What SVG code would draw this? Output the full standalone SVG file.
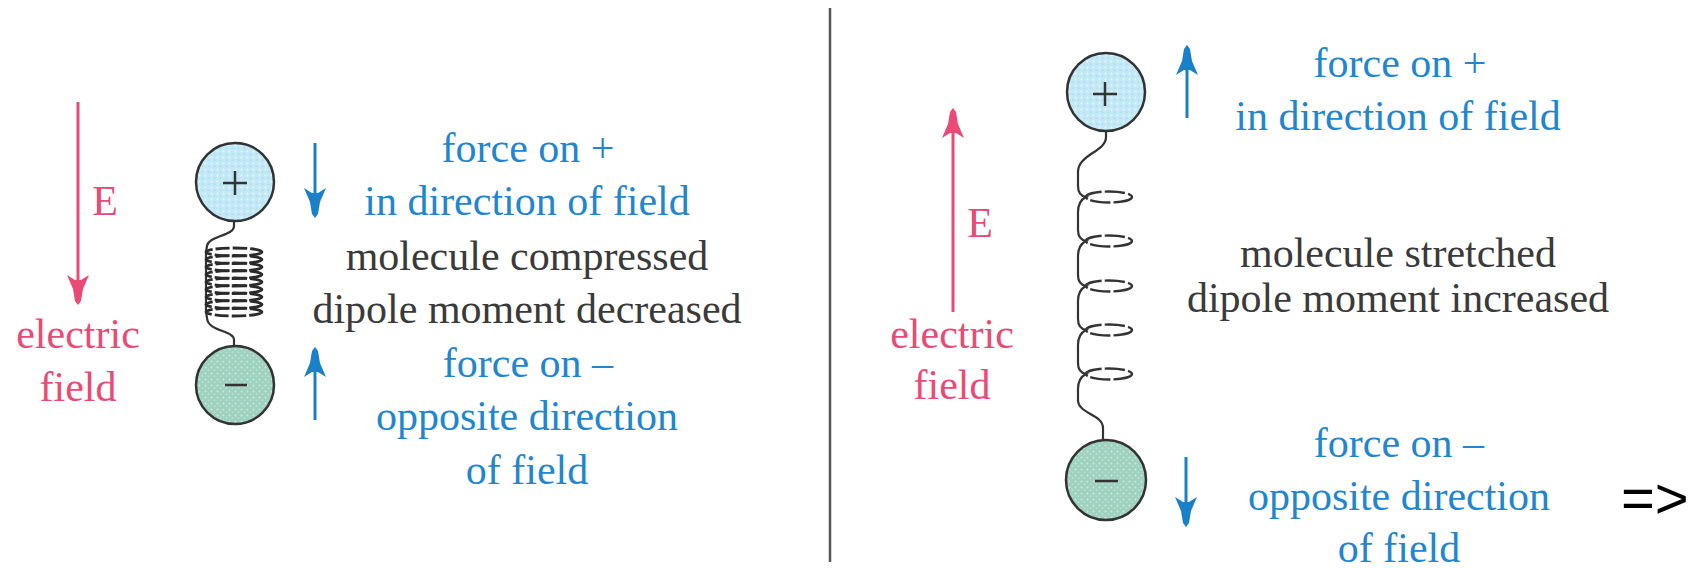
<svg xmlns="http://www.w3.org/2000/svg" width="1694" height="568" viewBox="0 0 1694 568">
  <style>
    .lbl { font-family: 'Times New Roman', 'Liberation Serif', Times, serif; font-size: 42px; text-anchor: middle; }
    .blue { fill: #1f86cf; }
    .gray { fill: #3a3a3a; }
    .pink { fill: #ea4a76; }
    .fieldline { stroke: #ea4a76; stroke-width: 3; fill: none; }
    .forceline { stroke: #1a80c8; stroke-width: 3; fill: none; }
    .wire { stroke: #333; stroke-width: 2.2; fill: none; }
    .loop { stroke: #333; stroke-width: 2.4; fill: none; stroke-dasharray: 20 3; }
    .tight { stroke: #2a2a2a; stroke-width: 2.8; fill: none; stroke-dasharray: 14 3; }
    .ball { stroke: #333; stroke-width: 2.5; }
    .sign { stroke: #333; stroke-width: 2.5; }
  </style>
  <defs>
    <pattern id="dotsPlus" width="6" height="6" patternUnits="userSpaceOnUse">
      <rect width="6" height="6" fill="#c4e9f6"/>
      <circle cx="1.5" cy="1.5" r="0.9" fill="#e8f8ff"/>
      <circle cx="4.5" cy="4.2" r="0.9" fill="#a9dcef"/>
    </pattern>
    <pattern id="dotsMinus" width="6" height="6" patternUnits="userSpaceOnUse">
      <rect width="6" height="6" fill="#9fd0c2"/>
      <circle cx="1.5" cy="1.5" r="0.9" fill="#c9f2c6"/>
      <circle cx="4.5" cy="4.2" r="0.9" fill="#b8e6cc"/>
    </pattern>
    <!-- arrowhead pointing down, tip at origin -->
    <path id="head" d="M-11,-30 L-3,-25 L3,-25 L11,-30 L5,-16 L3,-4 L0,0 L-3,-4 L-5,-16 Z"/>
  </defs>

  <!-- divider -->
  <line x1="830" y1="8" x2="830" y2="562" stroke="#555" stroke-width="2.5"/>

  <g id="connectors">
    <!-- left: field downward -->
    <line class="fieldline" x1="78" y1="102" x2="78" y2="290"/>
    <use href="#head" transform="translate(78,305)" fill="#ea4a76"/>
    <!-- left: force on + (down) -->
    <line class="forceline" x1="315" y1="143" x2="315" y2="205"/>
    <use href="#head" transform="translate(315,218)" fill="#1a80c8"/>
    <!-- left: force on - (up) -->
    <line class="forceline" x1="315" y1="360" x2="315" y2="420"/>
    <use href="#head" transform="translate(315,347) rotate(180)" fill="#1a80c8"/>
    <!-- right: field upward -->
    <line class="fieldline" x1="953" y1="122" x2="953" y2="312"/>
    <use href="#head" transform="translate(953,108) rotate(180)" fill="#ea4a76"/>
    <!-- right: force on + (up) -->
    <line class="forceline" x1="1187" y1="58" x2="1187" y2="118"/>
    <use href="#head" transform="translate(1187,45) rotate(180)" fill="#1a80c8"/>
    <!-- right: force on - (down) -->
    <line class="forceline" x1="1186" y1="457" x2="1186" y2="515"/>
    <use href="#head" transform="translate(1186,527)" fill="#1a80c8"/>
  </g>

  <!-- left panel: compressed molecule -->
  <g id="left-field-label">
    <text class="lbl pink" x="105" y="215">E</text>
    <text class="lbl pink" x="78" y="348">electric</text>
    <text class="lbl pink" x="78" y="401">field</text>
  </g>

  <g id="left-labels">
    <text class="lbl blue" x="528" y="162">force on +</text>
    <text class="lbl blue" x="527" y="215">in direction of field</text>
    <text class="lbl gray" x="527" y="270">molecule compressed</text>
    <text class="lbl gray" x="527" y="323">dipole moment decreased</text>
    <text class="lbl blue" x="528" y="377">force on &#8211;</text>
    <text class="lbl blue" x="527" y="430">opposite direction</text>
    <text class="lbl blue" x="527" y="484">of field</text>
  </g>

  <!-- right panel: stretched molecule -->
  <g id="right-field-label">
    <text class="lbl pink" x="980" y="237">E</text>
    <text class="lbl pink" x="952" y="348">electric</text>
    <text class="lbl pink" x="952" y="399">field</text>
  </g>

  <g id="right-labels">
    <text class="lbl blue" x="1400" y="77">force on +</text>
    <text class="lbl blue" x="1398" y="130">in direction of field</text>
    <text class="lbl gray" x="1398" y="267">molecule stretched</text>
    <text class="lbl gray" x="1398" y="312">dipole moment increased</text>
    <text class="lbl blue" x="1399" y="457">force on &#8211;</text>
    <text class="lbl blue" x="1399" y="510">opposite direction</text>
    <text class="lbl blue" x="1399" y="562">of field</text>
  </g>

  <g id="left-molecule">
    <path class="wire" d="M234,221 L234,226 C234,236 208,236 207,246 L206,252"/>
    <path class="wire" d="M206,252 L206,312" stroke-width="2.8"/>
    <g class="tight">
      <ellipse cx="234" cy="252" rx="28" ry="4"/>
      <ellipse cx="234" cy="259.5" rx="28" ry="4"/>
      <ellipse cx="234" cy="267" rx="28" ry="4"/>
      <ellipse cx="234" cy="274.5" rx="28" ry="4"/>
      <ellipse cx="234" cy="282" rx="28" ry="4"/>
      <ellipse cx="234" cy="289.5" rx="28" ry="4"/>
      <ellipse cx="234" cy="297" rx="28" ry="4"/>
      <ellipse cx="234" cy="304.5" rx="28" ry="4"/>
      <ellipse cx="234" cy="312" rx="28" ry="4"/>
    </g>
    <path class="wire" d="M206,312 L207,318 C208,332 234,330 234,340 L234,346"/>
    <circle class="ball" cx="235" cy="182" r="39" fill="url(#dotsPlus)"/>
    <line class="sign" x1="223" y1="183" x2="247" y2="183"/>
    <line class="sign" x1="235" y1="171" x2="235" y2="195"/>
    <circle class="ball" cx="235" cy="385" r="39" fill="url(#dotsMinus)"/>
    <line class="sign" x1="225" y1="385" x2="247" y2="385"/>
  </g>

  <g id="right-molecule">
    <path class="wire" d="M1106,131 L1106,137 C1106,152 1078,154 1078,172 L1078,186 C1078,192 1081,196 1086,197
      C1080,200 1078,205 1078,212 L1078,230 C1078,236 1081,240 1086,241
      C1080,244 1078,249 1078,256 L1078,275 C1078,281 1081,285 1086,286
      C1080,289 1078,294 1078,301 L1078,319 C1078,325 1081,329 1086,330
      C1080,333 1078,338 1078,345 L1078,363 C1078,369 1081,373 1086,374
      C1080,377 1078,382 1078,389 L1078,400 C1078,414 1103,414 1103,428 L1103,441"/>
    <g class="loop">
      <ellipse cx="1109" cy="197" rx="23" ry="5.5"/>
      <ellipse cx="1109" cy="241" rx="23" ry="5.5"/>
      <ellipse cx="1109" cy="286" rx="23" ry="5.5"/>
      <ellipse cx="1109" cy="330" rx="23" ry="5.5"/>
      <ellipse cx="1109" cy="374" rx="23" ry="5.5"/>
    </g>
    <circle class="ball" cx="1106" cy="92" r="39" fill="url(#dotsPlus)"/>
    <line class="sign" x1="1093" y1="94" x2="1117" y2="94"/>
    <line class="sign" x1="1105" y1="82" x2="1105" y2="106"/>
    <circle class="ball" cx="1106" cy="480" r="40" fill="url(#dotsMinus)"/>
    <line class="sign" x1="1095" y1="481" x2="1118" y2="481"/>
  </g>

  <g id="next-marker">
    <text x="1621" y="518" font-family="Liberation Sans, Arial, sans-serif" font-size="58" fill="#000">=&gt;</text>
  </g>
</svg>
